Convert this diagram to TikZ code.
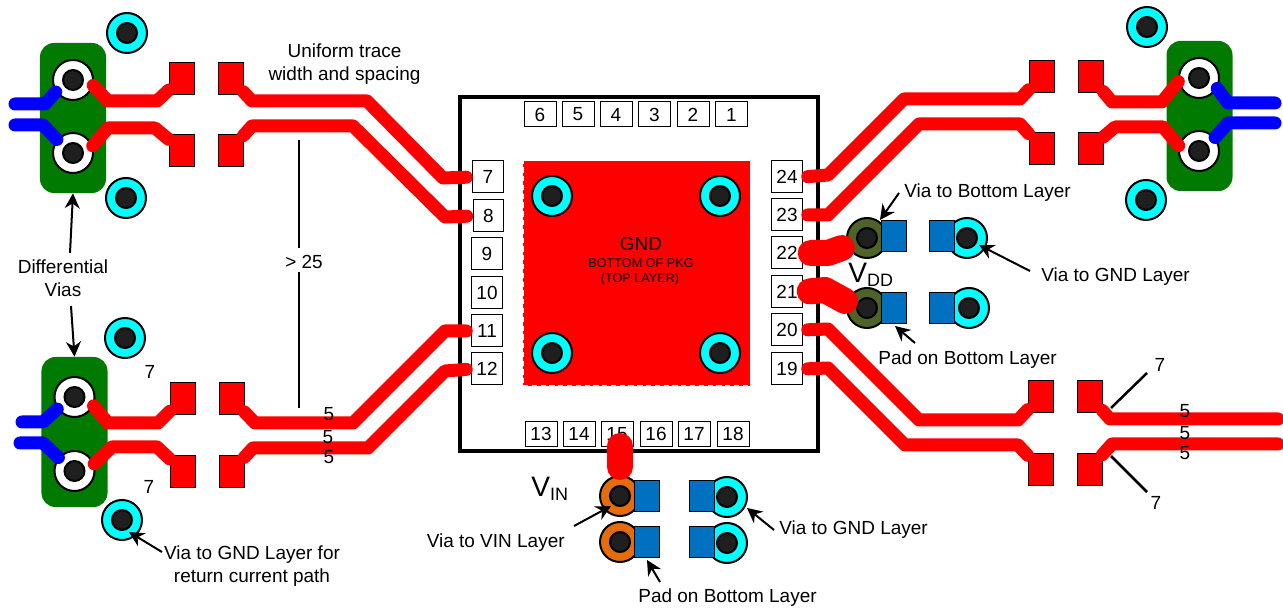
\documentclass[tikz,border=0pt]{standalone}
\usepackage{fontspec}
\setmainfont{Liberation Sans}
\usetikzlibrary{arrows.meta}
\definecolor{padblue}{HTML}{0070C0}
\definecolor{viacyan}{HTML}{00FFFF}
\definecolor{viaorange}{HTML}{E46C0A}
\definecolor{viaolive}{HTML}{4F6228}
\definecolor{boardgreen}{HTML}{007A00}
\definecolor{drillgrey}{HTML}{1F1F1F}
\newcommand{\railname}[2]{{\fontsize{16}{18}\selectfont #1}\raisebox{-0.7mm}{\fontsize{10.2}{12}\selectfont #2}}
\begin{document}
\begin{tikzpicture}
            [x=0.2mm,y=-0.2mm,
            every node/.style={font=\fontsize{10.8}{13.2}\selectfont},
            via/.style ={draw=black,circle,line width=0.4mm,minimum size=8mm,inner sep=0},
            drill/.style ={draw=black,fill=drillgrey,circle,line width=0.4mm,minimum size=4mm,inner sep=0},
            redpad/.style ={draw=black,fill=red,line width=0.15mm,minimum width=5mm,minimum height=6.4mm,inner sep=0},
            bluepad/.style ={draw=black,fill=padblue,line width=0.2mm,minimum width=5mm,minimum height=6.2mm,inner sep=0},
            greenblock/.style ={fill=boardgreen,rounded corners=2.8mm,minimum width=13.2mm,minimum height=30mm,inner sep=0},
            pinbox/.style ={draw=black,fill=white,line width=0.2mm,inner sep=0},
            trace/.style ={draw=red,line width=2.6mm,line cap=round,line join=round},
            bluetrace/.style ={draw=blue,line width=2.6mm,line cap=round,line join=round},
            stub/.style ={draw=red,line width=5.2mm,line cap=round,line join=round},
            pointer/.style ={-{Stealth[length=3mm,width=3mm]},line width=0.4mm},
            rule/.style ={line width=0.5mm},
            tag/.style ={inner sep=1mm,align=center}]
            \useasboundingbox (0,0) rectangle (1283,609);
            \node[greenblock] (gtl) at (73,118) {};
            \node[greenblock] (gbl) at (74.5,432) {};
            \node[greenblock] (gtr) at (1199.5,116) {};
            \foreach \n/\x/\y/\c in {ga/127/33/viacyan,gb/126/198/viacyan,gc/125/338/viacyan,gd/122/520/viacyan,
                ge/1147/27/viacyan,gf/1146/200/viacyan,
                wa/73/80/white,wb/73/153/white,wc/74.5/397/white,wd/74.5/471/white,
                we/1199/78/white,wf/1199/151/white,
                ia/620/496/viaorange,ib/620/542/viaorange,ic/727/497/viacyan,id/727/543/viacyan,
                da/867/238/viaolive,db/867/308/viaolive,dc/967/238/viacyan,dd/969/308/viacyan}
                {\node[via,fill=\c] (\n) at (\x,\y) {};
                \node[drill] (\n d) at (\n) {};}
            \foreach \n/\x/\y in {ra/181.5/78,rb/181.5/150,rc/230.5/78,rd/230.5/150,
                re/182.5/398.5,rf/182.5/471,rg/231.5/398.5,rh/231.5/471,
                ri/1041.5/76,rj/1041.5/148,rk/1090.5/76,rl/1090.5/148,
                rm/1040.5/396,rn/1040.5/469,ro/1089.5/396,rp/1089.5/469}
                {\node[redpad] (\n) at (\x,\y) {};}
            \foreach \n/\x/\y in {ba/646.5/496.5,bb/646.5/542,bc/702/496.5,bd/702/542,
                be/893.5/236.5,bf/893.5/308,bg/942/236.5,bh/942/308}
                {\node[bluepad] (\n) at (\x,\y) {};}
            \node[draw=black,line width=0.8mm,minimum width=71.6mm,minimum height=70.8mm,inner sep=0] (pkg) at (639,274) {};
            \foreach \n/\x/\y in {6/540/114.5,5/578/114.5,4/616/114.5,3/654.5/114.5,2/693/114.5,1/731.5/114.5,
                13/541/434,14/579/434,15/617/434,16/656/434,17/694/434,18/733/434}
                {\node[pinbox,minimum width=6.4mm,minimum height=5mm] (p\n) at (\x,\y) {\n};}
            \foreach \n/\x/\y in {7/488/177,8/488.5/216,9/487/254,10/487/293,11/487/331,12/487/369,
                24/787/177,23/787/215,22/787/253,21/787/292,20/787/330,19/787/369}
                {\node[pinbox,minimum width=6.1mm,minimum height=6.4mm] (p\n) at (\x,\y) {\n};}
            \node[fill=red,draw=white,densely dashed,line width=0.2mm,minimum width=45.4mm,minimum height=45mm,inner sep=0] (gndpad) at (636.5,273.5) {};
            \foreach \n/\x/\y in {pa/552/196,pb/720/196,pc/552/353,pd/720/353}
                {\node[via,fill=viacyan] (\n) at (\x,\y) {};
                \node[drill] (\n d) at (\n) {};}
            \node (gndtag) at (641,244) {GND};
            \node[font=\fontsize{7.2}{9}\selectfont] (pkgtag) at (641,263.5) {BOTTOM OF PKG};
            \node[font=\fontsize{7.2}{9}\selectfont] (layertag) at (640,279) {(TOP LAYER)};
            \coordinate (ea) at (15,104);
            \coordinate (eb) at (15,125);
            \coordinate (ec) at (22,422);
            \coordinate (ed) at (20,443);
            \coordinate (ee) at (1275,103);
            \coordinate (ef) at (1275,123);
            \coordinate (eg) at (1278,419);
            \coordinate (eh) at (1278,444);
            \coordinate (st) at (620,446);
            \draw[bluetrace] (ea) -- (45,104) -- (wa.215);
            \draw[bluetrace] (eb) -- (43,125) -- (wb.140);
            \draw[bluetrace] (ec) -- (43,422) -- (wc.215);
            \draw[bluetrace] (ed) -- (43,443) -- (wd.140);
            \draw[bluetrace] (ee) -- (1228,103) -- (we.-30);
            \draw[bluetrace] (ef) -- (1228,123) -- (wf.40);
            \draw[trace] (wa.-15) -- (108,101) -- (157,101) -- (ra);
            \draw[trace] (wb.20) -- (108,128) -- (155,128) -- (rb);
            \draw[trace] (wc.-25) -- (108,423) -- (158,423) -- (re);
            \draw[trace] (wd.20) -- (112,447) -- (157,447) -- (rf);
            \draw[trace] (we.190) -- (1162,102) -- (1112,102) -- (rk);
            \draw[trace] (wf.165) -- (1163,127) -- (1115,127) -- (rl);
            \draw[trace,shorten >=1.2mm] (rc) -- (252,101) -- (367,101) -- (443,178) -- (p7.west);
            \draw[trace,shorten >=1.2mm] (rd) -- (252,126) -- (353,126) -- (445,217) -- (p8.west);
            \draw[trace,shorten >=1mm] (rg) -- (255,423) -- (353,423) -- (445,331) -- (p11.west);
            \draw[trace,shorten >=1mm] (rh) -- (253,448) -- (368,448) -- (445,371) -- (p12.west);
            \draw[trace,shorten <=1mm] (p24.east) -- (828,175) -- (904,99) -- (1020,99) -- (ri);
            \draw[trace,shorten <=1mm] (p23.east) -- (828,215) -- (919,124) -- (1020,124) -- (rj);
            \draw[trace,shorten <=1mm] (p20.east) -- (828,329) -- (919,420) -- (1018,420) -- (rm);
            \draw[trace,shorten <=1mm] (p19.east) -- (828,368) -- (905,445) -- (1018,445) -- (rn);
            \draw[trace] (ro) -- (1110,419) -- (eg);
            \draw[trace] (rp) -- (1112,444) -- (eh);
            \draw[stub,shorten <=1.6mm] (p22.east) -- (828,253) -- (842,248);
            \draw[stub,shorten <=1.4mm] (p21.east) -- (825,290) -- (845,301);
            \draw[stub,shorten >=1.6mm] (st) -- (ia.north);
            \node[anchor=base west,inner sep=0] (vdd) at (848,283) {\railname{V}{DD}};
            \node[anchor=base west,inner sep=0] (vin) at (531,497) {\railname{V}{IN}};
            \node[tag] (widthtag) at (344.5,64) {Uniform trace\\width and spacing};
            \node[tag] (difftag) at (63,278.5) {Differential\\Vias};
            \node[tag] (retag) at (252,566) {Via to GND Layer for\\return current path};
            \node[tag,anchor=west] (vbtag) at (899,193) {Via to Bottom Layer};
            \node[tag,anchor=west] (vgtag) at (1036,277) {Via to GND Layer};
            \node[tag,anchor=west] (pbtag) at (873,360) {Pad on Bottom Layer};
            \node[tag,anchor=east] (vitag) at (570,543) {Via to VIN Layer};
            \node[tag,anchor=west] (vctag) at (774,530) {Via to GND Layer};
            \node[tag,anchor=west] (pctag) at (633,598) {Pad on Bottom Layer};
            \node[inner sep=0] (gaptag) at (304,262) {> 25};
            \foreach \n/\x/\y/\t in {fa/329/414/5,fb/328/437/5,fc/329/457/5,
                fd/1185/411/5,fe/1185/433/5,ff/1185/453/5,
                sa/150/372/7,sb/149/487/7,sc/1160/365/7,sd/1156/503/7}
                {\node[inner sep=0] (\n) at (\x,\y) {\t};}
            \coordinate (ta) at (70,253);
            \coordinate (tb) at (71,306);
            \coordinate (tc) at (299,140);
            \coordinate (tca) at (299,248);
            \coordinate (tda) at (299,272);
            \coordinate (td) at (299,408);
            \coordinate (te) at (1147,373);
            \coordinate (tf) at (1111,408);
            \coordinate (tg) at (1147,492);
            \coordinate (th) at (1111,456);
            \coordinate (ti) at (162,552);
            \coordinate (tj) at (1030,271);
            \coordinate (tk) at (915,343);
            \coordinate (tl) at (574,526);
            \coordinate (tm) at (660,582);
            \coordinate (ha) at (129,532);
            \coordinate (hb) at (880,220);
            \coordinate (hc) at (979,245);
            \coordinate (hd) at (895,326);
            \coordinate (he) at (611,506);
            \coordinate (hf) at (647,560);
            \coordinate (hg) at (747,508);
            \draw[pointer] (ta) -- (gtl.south);
            \draw[pointer] (tb) -- (gbl.north);
            \draw[pointer] (ti) -- (ha);
            \draw[pointer] (vbtag.west) -- (hb);
            \draw[pointer] (tj) -- (hc);
            \draw[pointer] (tk) -- (hd);
            \draw[pointer] (tl) -- (he);
            \draw[pointer] (tm) -- (hf);
            \draw[pointer] (vctag.west) -- (hg);
            \draw[rule] (tc) -- (tca);
            \draw[rule] (tda) -- (td);
            \draw[rule] (te) -- (tf);
            \draw[rule] (tg) -- (th);
        \end{tikzpicture}
\end{document}
